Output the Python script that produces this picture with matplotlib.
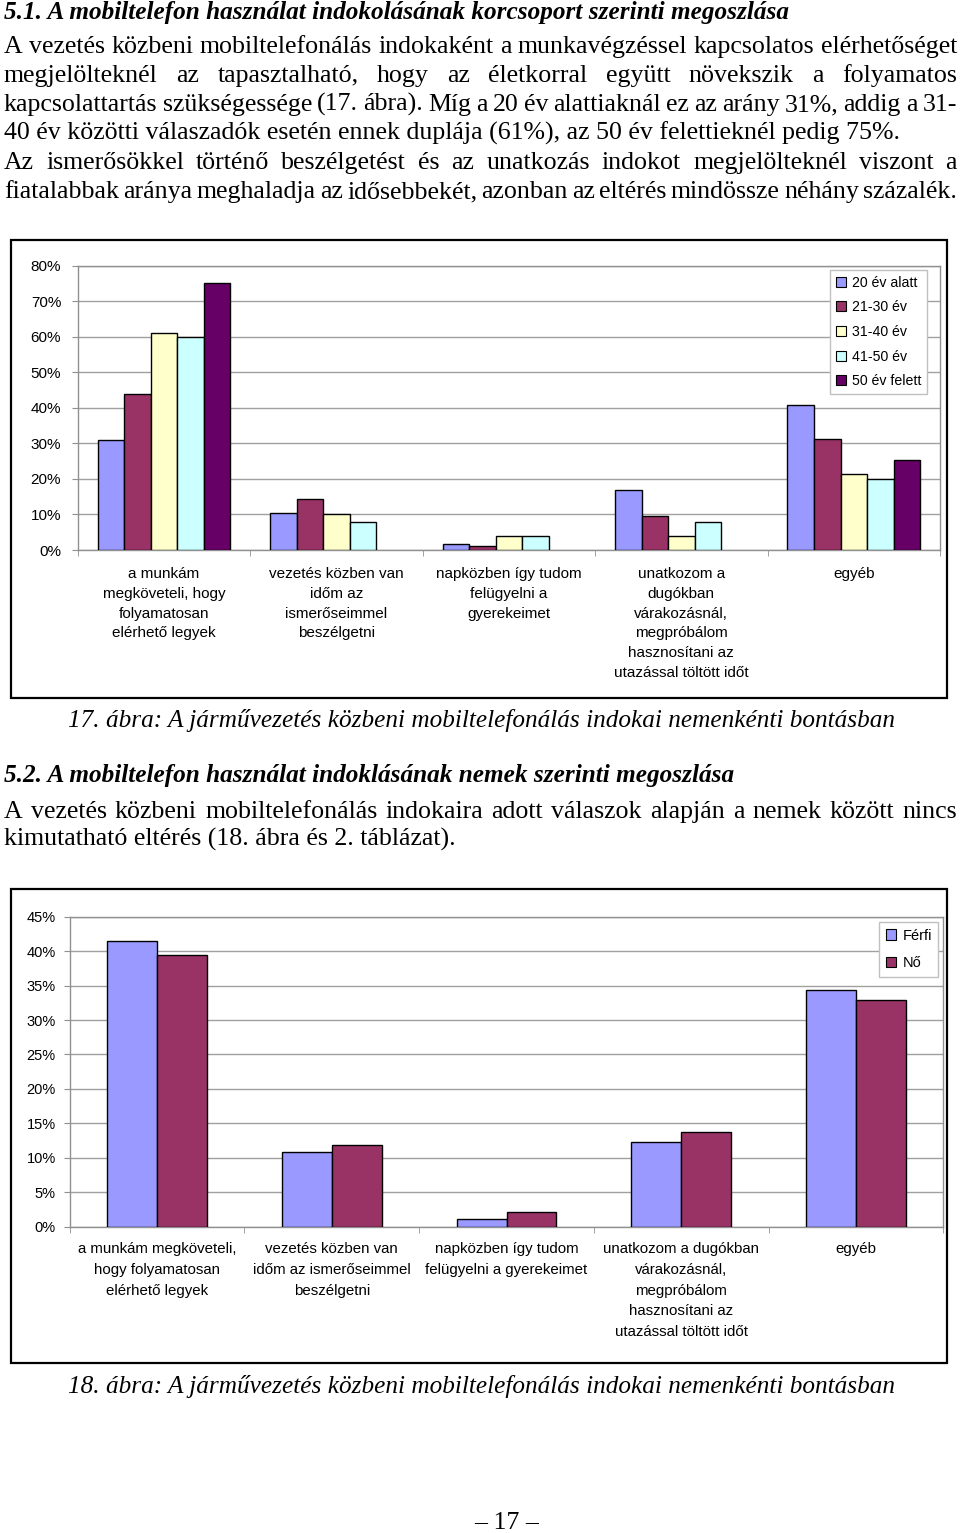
import numpy as np
import matplotlib
matplotlib.use("Agg")
import matplotlib.pyplot as plt
from matplotlib.font_manager import FontProperties
from matplotlib.patches import Rectangle, Patch
from matplotlib.ticker import PercentFormatter, MultipleLocator, FixedLocator

W, H = 960, 1533

# --- data: chart 17 (age groups) ---
reasons_age = [
    "a munkám\nmegköveteli, hogy\nfolyamatosan\nelérhető legyek",
    "vezetés közben van\nidőm az\nismerőseimmel\nbeszélgetni",
    "napközben így tudom\nfelügyelni a\ngyerekeimet",
    "unatkozom a\ndugókban\nvárakozásnál,\nmegpróbálom\nhasznosítani az\nutazással töltött időt",
    "egyéb",
]
age_groups = ["20 év alatt", "21-30 év", "31-40 év", "41-50 év", "50 év felett"]
age_colors = ["#9999ff", "#993366", "#ffffcc", "#ccffff", "#660066"]
under20 = [31.0, 10.5, 1.8, 16.8, 40.7]
age21_30 = [44.0, 14.4, 1.1, 9.5, 31.1]
age31_40 = [61.0, 10.1, 3.9, 3.9, 21.3]
age41_50 = [60.0, 8.0, 3.9, 8.0, 19.9]
over50 = [75.0, 0.0, 0.0, 0.0, 25.2]

# --- data: chart 18 (sex) ---
reasons_sex = [
    "a munkám megköveteli,\nhogy folyamatosan\nelérhető legyek",
    "vezetés közben van\nidőm az ismerőseimmel\nbeszélgetni",
    "napközben így tudom\nfelügyelni a gyerekeimet",
    "unatkozom a dugókban\nvárakozásnál,\nmegpróbálom\nhasznosítani az\nutazással töltött időt",
    "egyéb",
]
sexes = ["Férfi", "Nő"]
sex_colors = ["#9999ff", "#993366"]
male = [41.5, 10.9, 1.1, 12.3, 34.3]
female = [39.4, 11.9, 2.1, 13.8, 32.9]

# --- page text ---
title1 = "5.1. A mobiltelefon használat indokolásának korcsoport szerinti megoszlása"
para1 = [
    ("A vezetés közbeni mobiltelefonálás indokaként a munkavégzéssel kapcsolatos elérhetőséget", True),
    ("megjelölteknél az tapasztalható, hogy az életkorral együtt növekszik a folyamatos", True),
    ("kapcsolattartás szükségessége (17. ábra). Míg a 20 év alattiaknál ez az arány 31%, addig a 31-", True),
    ("40 év közötti válaszadók esetén ennek duplája (61%), az 50 év felettieknél pedig 75%.", False),
    ("Az ismerősökkel történő beszélgetést és az unatkozás indokot megjelölteknél viszont a", True),
    ("fiatalabbak aránya meghaladja az idősebbekét, azonban az eltérés mindössze néhány százalék.", True),
]
caption1 = "17. ábra: A járművezetés közbeni mobiltelefonálás indokai nemenkénti bontásban"
title2 = "5.2. A mobiltelefon használat indoklásának nemek szerinti megoszlása"
para2 = [
    ("A vezetés közbeni mobiltelefonálás indokaira adott válaszok alapján a nemek között nincs", True),
    ("kimutatható eltérés (18. ábra és 2. táblázat).", False),
]
caption2 = "18. ábra: A járművezetés közbeni mobiltelefonálás indokai nemenkénti bontásban"
page_no = "– 17 –"

fig = plt.figure(figsize=(W / 100, H / 100), dpi=100)
renderer = fig.canvas.get_renderer()


def fx(x):
    return x / W


def fy(y):
    return 1 - y / H


def serif(size, style="normal", weight="normal"):
    return FontProperties(family="Liberation Serif", size=size, style=style, weight=weight)


def text_w(s, prop):
    w, h, d = renderer.get_text_width_height_descent(s, prop, ismath=False)
    return w


def fit_size(s, target, style="normal", weight="normal"):
    return 20 * target / text_w(s, serif(20, style, weight))


def put_line(s, y, prop, x0=4, x1=957, justify=False):
    if not justify:
        fig.text(fx(x0), fy(y), s, fontproperties=prop, va="baseline", ha="left")
        return
    words = s.split()
    ws = [text_w(w, prop) for w in words]
    gap = (x1 - x0 - sum(ws)) / (len(words) - 1)
    x = x0
    for w, ww in zip(words, ws):
        fig.text(fx(x), fy(y), w, fontproperties=prop, va="baseline", ha="left")
        x += ww + gap


body = fit_size(para1[3][0], 899)
head = fit_size(title1, 783, "italic", "bold")
cap = fit_size(caption1, 825, "italic")

put_line(title1, 19, serif(head, "italic", "bold"))
for i, (s, j) in enumerate(para1):
    put_line(s, 53 + 29 * i, serif(body), justify=j)
fig.text(fx(481), fy(727), caption1, fontproperties=serif(cap, "italic"), ha="center", va="baseline")
put_line(title2, 782, serif(head, "italic", "bold"))
for i, (s, j) in enumerate(para2):
    put_line(s, 818 + 28 * i, serif(body), justify=j)
fig.text(fx(481), fy(1393), caption2, fontproperties=serif(cap, "italic"), ha="center", va="baseline")
fig.text(fx(507), fy(1529), page_no, fontproperties=serif(body), ha="center", va="baseline")


def draw_chart(frame, plot, cats, series, names, colors, ymax, ystep,
               leg_xy, tick_fs, lab_fs, lab_ls, lab_pad, ytick_pad, leg_ls, leg_bp, leg_fs):
    fl, ft, fr, fb = frame
    fig.add_artist(Rectangle((fx(fl), fy(fb)), (fr - fl) / W, (fb - ft) / H,
                             transform=fig.transFigure, fill=False,
                             edgecolor="black", linewidth=1.6))
    l, t, r, b = plot
    ax = fig.add_axes([fx(l), fy(b), (r - l) / W, (b - t) / H])
    n = len(series)
    x = np.arange(len(cats))
    w = 1 / (n + 1.5)
    for i, (vals, col) in enumerate(zip(series, colors)):
        vals = np.array(vals) / 100
        keep = vals > 0
        off = (i - (n - 1) / 2) * w
        ax.bar(x[keep] + off, vals[keep], w, color=col, edgecolor="black",
               linewidth=1, zorder=3)
    ax.set_xlim(-0.5, len(cats) - 0.5)
    ax.set_ylim(0, ymax)
    ax.yaxis.set_major_locator(MultipleLocator(ystep))
    ax.yaxis.set_major_formatter(PercentFormatter(1, decimals=0))
    ax.grid(axis="y", color="#a0a0a0", linewidth=1, zorder=0)
    for sp in ax.spines.values():
        sp.set_color("#909090")
        sp.set_linewidth(1)
    ax.set_xticks(x)
    ax.set_xticklabels(cats, fontfamily="Liberation Sans", fontsize=lab_fs,
                       linespacing=lab_ls, va="top")
    ax.xaxis.set_minor_locator(FixedLocator(np.arange(len(cats) + 1) - 0.5))
    ax.tick_params(axis="x", which="major", length=0, pad=lab_pad)
    ax.tick_params(axis="x", which="minor", length=4, color="#909090")
    ax.tick_params(axis="y", length=4, color="#909090", pad=ytick_pad,
                   labelsize=tick_fs)
    for lbl in ax.get_yticklabels():
        lbl.set_fontfamily("Liberation Sans")
    handles = [Patch(facecolor=c, edgecolor="black", linewidth=0.8) for c in colors]
    ax.legend(handles, names, loc="upper left", bbox_to_anchor=(fx(leg_xy[0]), fy(leg_xy[1])),
              bbox_transform=fig.transFigure, borderaxespad=0, fancybox=False,
              framealpha=1, edgecolor="#c0c0c0", handlelength=0.7, handleheight=0.7,
              handletextpad=0.45, labelspacing=leg_ls, borderpad=leg_bp,
              prop=FontProperties(family="Liberation Sans", size=leg_fs))
    return ax


draw_chart((11, 240, 947, 698), (77.8, 265.5, 940, 550), reasons_age,
           [under20, age21_30, age31_40, age41_50, over50], age_groups, age_colors,
           0.8, 0.1, (830, 270), 11, 11, 1.54, 12, 8, 0.75, 0.4, 10.2)
draw_chart((11, 889, 947, 1363), (69.6, 916.7, 943.4, 1226.7), reasons_sex,
           [male, female], sexes, sex_colors,
           0.45, 0.05, (879, 922), 10.5, 10.8, 1.62, 11, 6, 0.95, 0.45, 10.5)

fig.savefig("out.png", dpi=100)
